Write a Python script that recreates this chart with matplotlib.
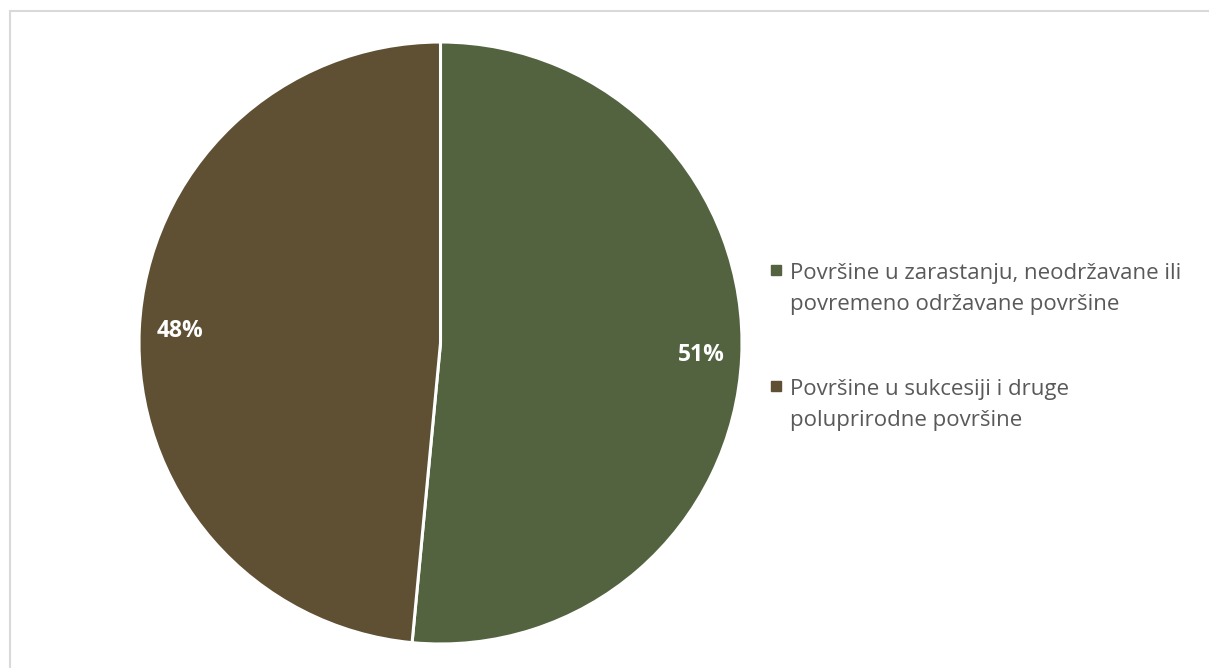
import matplotlib.pyplot as plt
from matplotlib.patches import Rectangle
from matplotlib.lines import Line2D

# data
categories = ["Površine u zarastanju, neodržavane ili\npovremeno održavane površine",
              "Površine u sukcesiji i druge\npoluprirodne površine"]
values = [51.4, 48.4]
colors = ["#536340", "#5f5034"]

plt.rcParams['font.family'] = ['Open Sans', 'DejaVu Sans']

W, H = 1209, 668
fig = plt.figure(figsize=(W / 100, H / 100), dpi=100)

# light chart frame (only left and top edges show)
fig.patches.append(Rectangle((10 / W, -0.5), 1.5, (H - 11) / H + 0.5,
                             transform=fig.transFigure, fill=False,
                             edgecolor="#d9d9d9", linewidth=1.5))

ax = fig.add_axes([139 / W, 24 / H, 603 / W, 602 / H])
total = sum(values)
wedges, texts, autotexts = ax.pie(
    values, colors=colors, startangle=90, counterclock=False,
    wedgeprops=dict(edgecolor="white", linewidth=2.2),
    autopct=lambda p: f"{p * total / 100:.0f}%", pctdistance=0.865,
    textprops=dict(color="white", fontsize=16.5, fontweight="bold"))
ax.set_xlim(-1, 1)
ax.set_ylim(-1, 1)
ax.set_aspect('auto')

# legend by hand so the square sits on the first text line (like Excel)
entry_top = [263, 379]
for lab, c, ytop in zip(categories, colors, entry_top):
    fig.text(790 / W, 1 - ytop / H, lab, ha="left", va="top", fontsize=16,
             color="#595959", linespacing=1.65)
    fig.add_artist(Line2D([776 / W], [1 - (ytop + 7) / H], marker="s",
                          markersize=7, color=c, transform=fig.transFigure))

fig.savefig("out.png", dpi=100)
